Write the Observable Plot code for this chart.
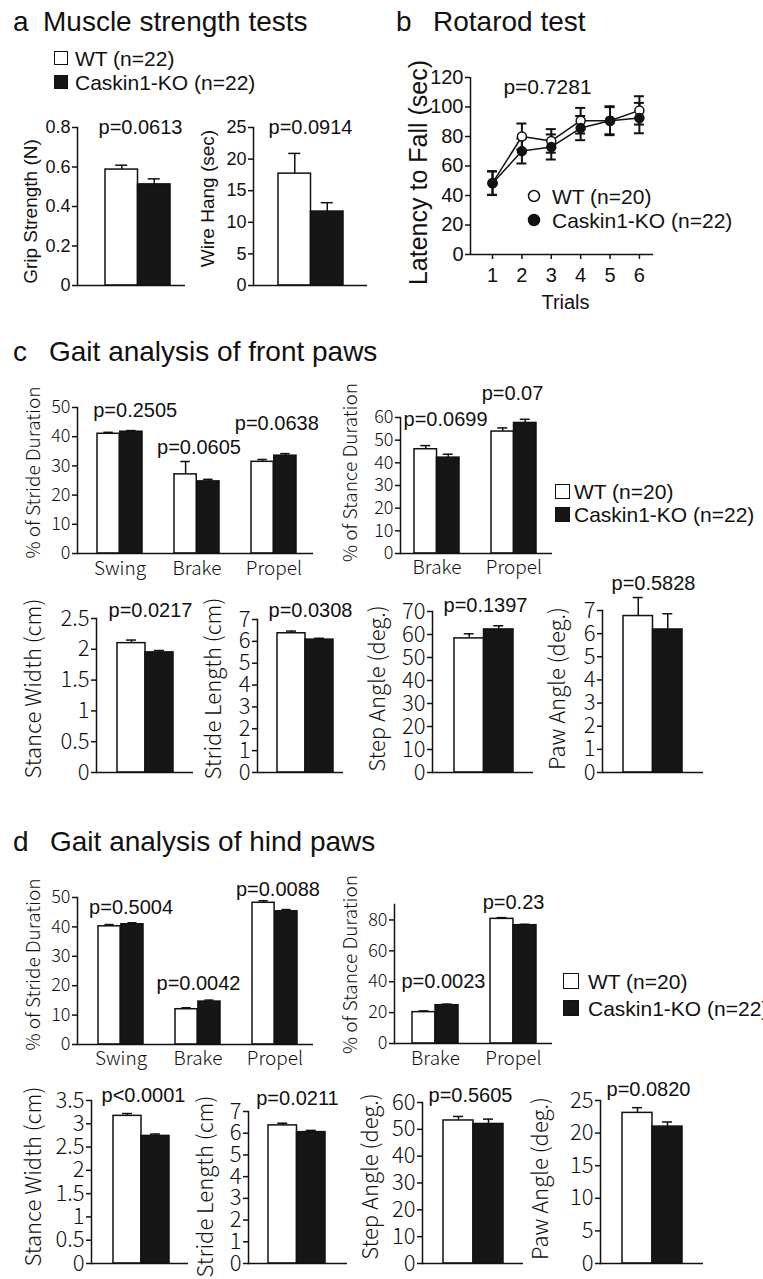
<!DOCTYPE html>
<html><head><meta charset="utf-8">
<script src="https://cdn.jsdelivr.net/npm/d3@7"></script>
<script src="https://cdn.jsdelivr.net/npm/@observablehq/plot@0.6"></script>
<style>
html,body{margin:0;padding:0;background:#fff;}
#page{position:relative;width:763px;height:1279px;overflow:hidden;background:#fff;}
.t{position:absolute;white-space:nowrap;font-family:"Liberation Sans",Arial,Helvetica,sans-serif;color:#111;line-height:1;}
.sq{position:absolute;box-sizing:border-box;border:1.5px solid #111;}
</style></head><body><div id="page"></div>
<script>
// ---------------- DATA ----------------
const groups = ["WT", "Caskin1-KO"];
const legendA = ["WT (n=22)", "Caskin1-KO (n=22)"];
const legendB = ["WT (n=20)", "Caskin1-KO (n=22)"];
const legendC = ["WT (n=20)", "Caskin1-KO (n=22)"];
const legendD = ["WT (n=20)", "Caskin1-KO (n=22)"];
const panelLetters = ["a", "b", "c", "d"];
const panelTitles = ["Muscle strength tests", "Rotarod test", "Gait analysis of front paws", "Gait analysis of hind paws"];

// a: muscle strength  [WT, KO]
const gripMean = [0.587, 0.512], gripSem = [0.022, 0.028];
const wireMean = [17.7, 11.7], wireSem = [3.2, 1.4];
const pGrip = "p=0.0613", pWire = "p=0.0914";
const ticksGrip = [0, 0.2, 0.4, 0.6, 0.8];
const ticksWire = [0, 5, 10, 15, 20, 25];

// b: rotarod
const trials = [1, 2, 3, 4, 5, 6];
const rotaWT = [48.5, 80, 77, 90.7, 90.7, 97.7];
const rotaWTsem = [8, 8.8, 8, 8.7, 9.8, 9.6];
const rotaKO = [48.3, 70.1, 72.9, 85.7, 90.7, 92.5];
const rotaKOsem = [8, 8.4, 8.5, 8.2, 9.2, 10.3];
const pRota = "p=0.7281";
const ticksRota = [0, 20, 40, 60, 80, 100, 120];

// c/d categories
const phases = ["Swing", "Brake", "Propel"];
const stancePhases = ["Brake", "Propel"];

// c: front paws
const frontStrideWT = [41.0, 27.1, 31.4], frontStrideWTsem = [0.5, 4.4, 0.8];
const frontStrideKO = [41.7, 24.7, 33.5], frontStrideKOsem = [0.4, 0.7, 0.7];
const pFrontStride = ["p=0.2505", "p=0.0605", "p=0.0638"];
const frontStanceWT = [46.0, 53.8], frontStanceWTsem = [1.6, 1.6];
const frontStanceKO = [42.3, 57.6], frontStanceKOsem = [1.5, 1.6];
const pFrontStance = ["p=0.0699", "p=0.07"];
const frontWidth = [2.10, 1.95], frontWidthSem = [0.05, 0.03];
const frontLength = [6.37, 6.08], frontLengthSem = [0.1, 0.06];
const frontStep = [58.3, 62.2], frontStepSem = [2.0, 1.6];
const frontPaw = [6.76, 6.18], frontPawSem = [0.8, 0.68];
const pFrontSingles = ["p=0.0217", "p=0.0308", "p=0.1397", "p=0.5828"];

// d: hind paws
const hindStrideWT = [40.2, 12.0, 48.2], hindStrideWTsem = [0.6, 0.5, 0.7];
const hindStrideKO = [40.9, 14.6, 45.3], hindStrideKOsem = [0.5, 0.5, 0.6];
const pHindStride = ["p=0.5004", "p=0.0042", "p=0.0088"];
const hindStanceWT = [20.3, 80.7], hindStanceWTsem = [0.8, 0.8];
const hindStanceKO = [24.8, 76.6], hindStanceKOsem = [0.7, 0.6];
const pHindStance = ["p=0.0023", "p=0.23"];
const hindWidth = [3.17, 2.74], hindWidthSem = [0.05, 0.04];
const hindLength = [6.36, 6.05], hindLengthSem = [0.1, 0.08];
const hindStep = [53.3, 52.0], hindStepSem = [1.5, 1.8];
const hindPaw = [23.1, 21.0], hindPawSem = [0.8, 0.7];
const pHindSingles = ["p<0.0001", "p=0.0211", "p=0.5605", "p=0.0820"];

const ticks50 = [0, 10, 20, 30, 40, 50];
const ticks60 = [0, 10, 20, 30, 40, 50, 60];
const ticks70 = [0, 10, 20, 30, 40, 50, 60, 70];
const ticks80 = [0, 20, 40, 60, 80];
const ticks7 = [0, 1, 2, 3, 4, 5, 6, 7];
const ticks25 = [0, 5, 10, 15, 20, 25];
const ticksWidthF = [0, 0.5, 1, 1.5, 2, 2.5];
const ticksWidthH = [0, 0.5, 1, 1.5, 2, 2.5, 3, 3.5];

const yLabels = {
  grip: "Grip Strength (N)", wire: "Wire Hang (sec)", rota: "Latency to Fall (sec)",
  stride: "% of Stride Duration", stance: "% of Stance Duration",
  width: "Stance Width (cm)", length: "Stride Length (cm)", step: "Step Angle (deg.)", paw: "Paw Angle (deg.)"
};

// ---------------- STYLE / LAYOUT ----------------
const W = 763, H = 1279;
const INK = "#111";
const SANS = "'Liberation Sans', Arial, Helvetica, sans-serif";
const GOTHIC = "'Noto Sans CJK JP', 'Noto Sans', sans-serif";
const fTickA = {size: 18, family: SANS, weight: 400};
const fTickC = {size: 18, family: GOTHIC, weight: 300};
const fTickB = {size: 22, family: GOTHIC, weight: 300};
const fLabA = {size: 19, family: SANS, weight: 400};
const fLabC = {size: 19, family: GOTHIC, weight: 300};
const fLabB = {size: 22, family: GOTHIC, weight: 300};
const fCat = {size: 19, family: GOTHIC, weight: 300};
const P_SIZE = 20;

const page = document.getElementById("page");

function single(mean, sem) { return {cats: ["v"], wt: [mean[0]], wtSem: [sem[0]], ko: [mean[1]], koSem: [sem[1]]}; }

const barSpecs = [
  {...single(gripMean, gripSem), ticks: ticksGrip, ymax: 0.8, yLabel: yLabels.grip, p: [pGrip],
   box: [77, 127, 185, 285], band: [105, 170], cap: 12, tick: fTickA, lab: fLabA, labX: 30, labCY: 211, pPos: [[140, 127]]},
  {...single(wireMean, wireSem), ticks: ticksWire, ymax: 25, yLabel: yLabels.wire, p: [pWire],
   box: [253, 127, 367, 285], band: [278, 343], cap: 12, tick: fTickA, lab: fLabA, labX: 207, labCY: 198, pPos: [[310, 127]]},
  {cats: phases, wt: frontStrideWT, wtSem: frontStrideWTsem, ko: frontStrideKO, koSem: frontStrideKOsem,
   ticks: ticks50, ymax: 50, yLabel: yLabels.stride, p: pFrontStride,
   box: [77, 407, 313, 553], band: [97, 297], padIn: 0.41, cap: 10, tick: fTickC, lab: fLabC, labX: 33, labCY: 472,
   pPos: [[135, 410], [199, 447], [277, 423]], catCY: 568},
  {cats: stancePhases, wt: frontStanceWT, wtSem: frontStanceWTsem, ko: frontStanceKO, koSem: frontStanceKOsem,
   ticks: ticks60, ymax: 60, yLabel: yLabels.stance, p: pFrontStance,
   box: [400, 417, 552, 553], band: [414, 536], padIn: 0.416, cap: 10, tick: fTickC, lab: fLabC, labX: 350, labCY: 472,
   pPos: [[445, 419], [512, 393]], catCY: 567},
  {...single(frontWidth, frontWidthSem), ticks: ticksWidthF, ymax: 2.5, yLabel: yLabels.width, p: [pFrontSingles[0]],
   box: [96, 618, 193, 772], band: [117, 173], cap: 10, tick: fTickB, lab: fLabB, labX: 33, labCY: 688, pPos: [[150, 610]]},
  {...single(frontLength, frontLengthSem), ticks: ticks7, ymax: 7, yLabel: yLabels.length, p: [pFrontSingles[1]],
   box: [257, 619, 343, 772], band: [277, 333], cap: 10, tick: fTickB, lab: fLabB, labX: 213, labCY: 688, pPos: [[310, 610]]},
  {...single(frontStep, frontStepSem), ticks: ticks70, ymax: 70, yLabel: yLabels.step, p: [pFrontSingles[2]],
   box: [432, 611, 533, 772], band: [454, 513], cap: 10, tick: fTickB, lab: fLabB, labX: 377, labCY: 688, pPos: [[485, 605]]},
  {...single(frontPaw, frontPawSem), ticks: ticks7, ymax: 7, yLabel: yLabels.paw, p: [pFrontSingles[3]],
   box: [602, 610, 703, 772], band: [623, 682], cap: 10, tick: fTickB, lab: fLabB, labX: 557, labCY: 688, pPos: [[653, 583]]},
  {cats: phases, wt: hindStrideWT, wtSem: hindStrideWTsem, ko: hindStrideKO, koSem: hindStrideKOsem,
   ticks: ticks50, ymax: 50, yLabel: yLabels.stride, p: pHindStride,
   box: [77, 897, 313, 1044], band: [97, 298], padIn: 0.41, cap: 10, tick: fTickC, lab: fLabC, labX: 33, labCY: 964,
   pPos: [[130, 907], [198, 983], [278, 889]], catCY: 1058},
  {cats: stancePhases, wt: hindStanceWT, wtSem: hindStanceWTsem, ko: hindStanceKO, koSem: hindStanceKOsem,
   ticks: ticks80, ymax: 90, yLabel: yLabels.stance, p: pHindStance,
   box: [394, 904, 552, 1043], band: [411, 536], padIn: 0.416, cap: 10, tick: fTickC, lab: fLabC, labX: 350, labCY: 964,
   pPos: [[442, 981], [513, 902]], catCY: 1058},
  {...single(hindWidth, hindWidthSem), ticks: ticksWidthH, ymax: 3.5, yLabel: yLabels.width, p: [pHindSingles[0]],
   box: [91, 1100, 188, 1263], band: [113, 169], cap: 10, tick: fTickB, lab: fLabB, labX: 33, labCY: 1176, pPos: [[143, 1095]]},
  {...single(hindLength, hindLengthSem), ticks: ticks7, ymax: 7, yLabel: yLabels.length, p: [pHindSingles[1]],
   box: [248, 1111, 347, 1263], band: [268, 325], cap: 10, tick: fTickB, lab: fLabB, labX: 205, labCY: 1186, pPos: [[297, 1098]]},
  {...single(hindStep, hindStepSem), ticks: ticks60, ymax: 60, yLabel: yLabels.step, p: [pHindSingles[2]],
   box: [422, 1102, 523, 1263], band: [443, 503], cap: 10, tick: fTickB, lab: fLabB, labX: 370, labCY: 1176, pPos: [[470, 1095]]},
  {...single(hindPaw, hindPawSem), ticks: ticks25, ymax: 25, yLabel: yLabels.paw, p: [pHindSingles[3]],
   box: [600, 1100, 703, 1263], band: [622, 682], cap: 10, tick: fTickB, lab: fLabB, labX: 540, labCY: 1178, pPos: [[648, 1089]]}
];

function svgStyle(f) {
  return `position:absolute;left:0;top:0;background:transparent;overflow:visible;color:${INK};font-family:${f.family};font-size:${f.size}px;font-weight:${f.weight};`;
}

function yLabelMark(text, f, dx, dy) {
  return Plot.text([text], {frameAnchor: "left", rotate: -90, textAnchor: "middle", lineAnchor: "middle",
    dx, dy, fill: INK, fontSize: f.size, fontFamily: f.family, fontWeight: f.weight});
}

function barChart(s) {
  const [left, top, right, y0] = s.box;
  const n = s.cats.length;
  const padIn = n > 1 ? s.padIn : 0;
  const step = (s.band[1] - s.band[0]) / (n - padIn);
  const bw = step * (1 - padIn);
  const rows = s.cats.map((c, i) => ({cat: c, wt: s.wt[i], wtTop: s.wt[i] + s.wtSem[i], ko: s.ko[i], koTop: s.ko[i] + s.koSem[i]}));
  const cap = s.cap;
  const line = {stroke: INK, strokeWidth: 1.5};
  const marks = [
    Plot.barY(rows, {x: "cat", y: "wt", fill: "white", ...line, insetLeft: 0, insetRight: bw / 2}),
    Plot.barY(rows, {x: "cat", y: "ko", fill: "#161616", ...line, insetLeft: bw / 2, insetRight: 0}),
    Plot.ruleX(rows, {x: "cat", y1: "wt", y2: "wtTop", dx: -bw / 4, ...line}),
    Plot.ruleX(rows, {x: "cat", y1: "ko", y2: "koTop", dx: bw / 4, ...line}),
    Plot.tickY(rows, {x: "cat", y: "wtTop", insetLeft: bw / 4 - cap / 2, insetRight: 3 * bw / 4 - cap / 2, ...line}),
    Plot.tickY(rows, {x: "cat", y: "koTop", insetLeft: 3 * bw / 4 - cap / 2, insetRight: bw / 4 - cap / 2, ...line}),
    Plot.ruleY([0], line),
    Plot.frame({anchor: "left", ...line}),
    Plot.axisY({ticks: s.ticks, tickFormat: d => String(d), tickSize: 5, tickPadding: 2, label: null,
      color: INK, strokeWidth: 1.5, fontSize: s.tick.size, fontFamily: s.tick.family, fontWeight: s.tick.weight}),
    yLabelMark(s.yLabel, s.lab, s.labX - left, s.labCY - (top + y0) / 2)
  ];
  s.p.forEach((pt, i) => {
    const c = s.cats[i];
    const center = s.band[0] + i * step + bw / 2;
    const [cx, cy] = s.pPos[i];
    marks.push(Plot.text([{cat: c, t: pt}], {x: "cat", text: "t", frameAnchor: "top", lineAnchor: "middle", textAnchor: "middle",
      dx: cx - center, dy: cy - top, fill: INK, fontSize: P_SIZE, fontFamily: SANS}));
  });
  if (n > 1) {
    marks.push(Plot.axisX({tickSize: 0, tickPadding: s.catCY - y0 - 0.36 * fCat.size, label: null, color: INK,
      fontSize: fCat.size, fontFamily: fCat.family, fontWeight: fCat.weight}));
  }
  const svg = Plot.plot({
    width: W, height: H,
    marginLeft: left, marginRight: W - right, marginTop: top, marginBottom: H - y0,
    x: {type: "band", domain: s.cats, range: s.band, paddingInner: padIn, paddingOuter: 0, ...(n > 1 ? {} : {axis: null})},
    y: {domain: [0, s.ymax]},
    style: svgStyle(s.tick),
    marks
  });
  page.appendChild(svg);
}

barSpecs.forEach(barChart);

// ---------------- Panel b: rotarod ----------------
(function () {
  const left = 470, right = 653, top = 77, y0 = 254;
  const xDom = [0.25, 6.48];
  const unit = (right - left) / (xDom[1] - xDom[0]);
  const capU = 5 / unit;
  const rows = [];
  trials.forEach((t, i) => {
    rows.push({group: groups[0], trial: t, v: rotaWT[i], lo: rotaWT[i] - rotaWTsem[i], hi: rotaWT[i] + rotaWTsem[i]});
    rows.push({group: groups[1], trial: t, v: rotaKO[i], lo: rotaKO[i] - rotaKOsem[i], hi: rotaKO[i] + rotaKOsem[i]});
  });
  const wt = rows.filter(d => d.group === groups[0]);
  const ko = rows.filter(d => d.group === groups[1]);
  const line = {stroke: INK, strokeWidth: 1.5};
  const svg = Plot.plot({
    width: W, height: H,
    marginLeft: left, marginRight: W - right, marginTop: top, marginBottom: H - y0,
    x: {domain: xDom},
    y: {domain: [0, 120]},
    style: svgStyle({size: 20, family: SANS, weight: 400}),
    marks: [
      Plot.ruleY([0], line),
      Plot.ruleX([xDom[0]], line),
      Plot.ruleX(rows, {x: "trial", y1: "lo", y2: "hi", ...line, strokeWidth: 2}),
      Plot.ruleY(rows, {y: "hi", x1: d => d.trial - capU, x2: d => d.trial + capU, ...line, strokeWidth: 2}),
      Plot.ruleY(rows, {y: "lo", x1: d => d.trial - capU, x2: d => d.trial + capU, ...line, strokeWidth: 2}),
      Plot.line(wt, {x: "trial", y: "v", ...line}),
      Plot.line(ko, {x: "trial", y: "v", ...line}),
      Plot.dot(wt, {x: "trial", y: "v", r: 4.5, fill: "white", ...line}),
      Plot.dot(ko, {x: "trial", y: "v", r: 4.5, fill: INK, ...line}),
      Plot.axisY({ticks: ticksRota, tickFormat: d => String(d), tickSize: 5, tickPadding: 2, label: null,
        color: INK, strokeWidth: 1.5, fontSize: 20, fontFamily: SANS}),
      Plot.axisX({ticks: trials, tickFormat: d => String(d), tickSize: 5, tickPadding: 8, label: null,
        color: INK, strokeWidth: 1.5, fontSize: 20, fontFamily: SANS}),
      Plot.text(["Trials"], {frameAnchor: "bottom", lineAnchor: "middle", textAnchor: "middle",
        dx: 565 - (left + right) / 2, dy: 302 - y0, fill: INK, fontSize: 20, fontFamily: SANS}),
      yLabelMark(yLabels.rota, {size: 25, family: SANS, weight: 400}, 418 - left, 172 - (top + y0) / 2),
      Plot.text([pRota], {frameAnchor: "top", lineAnchor: "middle", textAnchor: "middle",
        dx: 547 - (left + right) / 2, dy: 87 - top, fill: INK, fontSize: 21, fontFamily: SANS})
    ]
  });
  page.appendChild(svg);
})();

// ---------------- HTML titles and legends ----------------
function htext(str, x, cy, size) {
  const d = document.createElement("div");
  d.className = "t";
  d.textContent = str;
  d.style.left = x + "px";
  d.style.top = (cy - 0.5 * size) + "px";
  d.style.fontSize = size + "px";
  page.appendChild(d);
  return d;
}
function hbase(str, x, base, size) {
  const d = htext(str, x, 0, size);
  d.style.top = (base - 0.85 * size) + "px";
}
const titlePos = [[13, 43, 32], [396, 433, 32], [13, 49, 362], [13, 50, 852]];
panelLetters.forEach((l, i) => {
  hbase(l, titlePos[i][0], titlePos[i][2], 28);
  hbase(panelTitles[i], titlePos[i][1], titlePos[i][2], 28);
});
function square(x, cy, size, fill) {
  const d = document.createElement("div");
  d.className = "sq";
  d.style.left = x + "px"; d.style.top = (cy - size / 2) + "px";
  d.style.width = size + "px"; d.style.height = size + "px";
  d.style.background = fill;
  page.appendChild(d);
}
function squareLegend(labels, sqX, txtX, cys, sqSize, fs) {
  labels.forEach((lab, i) => {
    square(sqX, cys[i], sqSize, i === 0 ? "white" : "#161616");
    htext(lab, txtX, cys[i], fs);
  });
}
squareLegend(legendA, 54, 75, [58, 82], 14, 21);
squareLegend(legendC, 555, 574, [491, 514], 15, 21);
squareLegend(legendD, 563, 588, [981, 1008], 16, 21);

// b legend with circles
legendB.forEach((lab, i) => {
  const cy = [196, 220][i];
  const s = document.createElementNS("http://www.w3.org/2000/svg", "svg");
  s.setAttribute("width", 16); s.setAttribute("height", 16);
  s.style.position = "absolute"; s.style.left = (534 - 8) + "px"; s.style.top = (cy - 8) + "px";
  const c = document.createElementNS("http://www.w3.org/2000/svg", "circle");
  c.setAttribute("cx", 8); c.setAttribute("cy", 8); c.setAttribute("r", 5.5);
  c.setAttribute("fill", i === 0 ? "white" : INK); c.setAttribute("stroke", INK); c.setAttribute("stroke-width", 1.5);
  s.appendChild(c);
  page.appendChild(s);
  htext(lab, 552, cy, 21);
});
</script></body></html>
